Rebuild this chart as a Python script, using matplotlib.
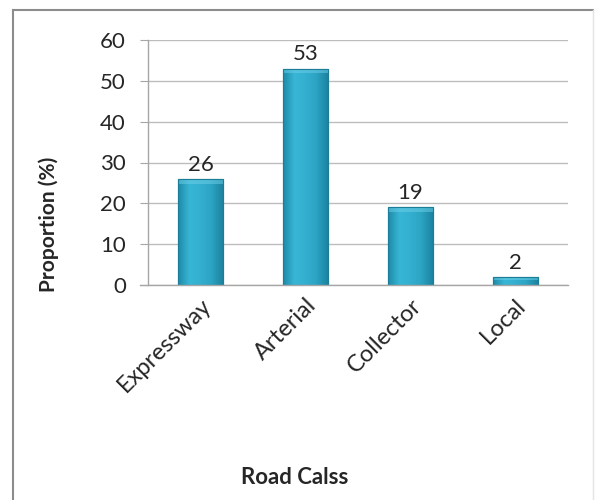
import numpy as np
import matplotlib.pyplot as plt
from matplotlib.colors import LinearSegmentedColormap
from matplotlib.patches import Rectangle
from matplotlib.lines import Line2D

# road class shares
categories = ["Expressway", "Arterial", "Collector", "Local"]
proportions = [26, 53, 19, 2]
y_ticks = [0, 10, 20, 30, 40, 50, 60]

plt.rcParams["font.family"] = ["Lato", "DejaVu Sans"]
TXT = "#262626"

fig = plt.figure(figsize=(5.95, 5.0), dpi=100)
ax = fig.add_axes([148 / 595, 1 - 285 / 500, 420 / 595, 245 / 500])

x = np.arange(len(categories))
bars = ax.bar(x, proportions, width=0.42, color="#2fa9c9",
              edgecolor="#1b7d97", linewidth=0.8, zorder=3)

# shaded fill across each bar
shade = LinearSegmentedColormap.from_list(
    "barshade", ["#1f8aa8", "#38b6d6", "#34afd0", "#2ca3c3", "#1c84a1"])
grad = np.linspace(0, 1, 64).reshape(1, -1)
for b in bars:
    x0, y0 = b.get_x(), b.get_y()
    w, h = b.get_width(), b.get_height()
    im = ax.imshow(grad, cmap=shade, aspect="auto", extent=(x0, x0 + w, y0, y0 + h),
                   zorder=3.5, interpolation="bicubic")
    im.set_clip_path(b)
    # soft bevel on top
    bev = min(1.2, h * 0.35)
    ax.add_patch(Rectangle((x0, y0 + h - bev), w, bev, facecolor="#6fd0e8",
                           edgecolor="none", alpha=0.5, zorder=3.6))
    ax.add_patch(Rectangle((x0, y0), w, h, facecolor="none",
                           edgecolor="#1b7d97", linewidth=0.8, zorder=3.7))

ax.bar_label(bars, labels=[str(v) for v in proportions], padding=3,
             fontsize=16, color=TXT)

ax.set_xlim(-0.5, len(categories) - 0.5)
ax.set_ylim(0, 60)
ax.set_yticks(y_ticks)
ax.set_xticks(x)
ax.set_xticklabels(categories, rotation=45, ha="right", va="top",
                   rotation_mode="anchor", fontsize=17, color=TXT)
ax.tick_params(axis="y", labelsize=16, labelcolor=TXT, length=6,
               color="#a6a6a6", pad=10)
ax.tick_params(axis="x", length=0, pad=7)
ax.yaxis.grid(True, color="#bdbdbd", linewidth=1.0, zorder=0)
ax.set_axisbelow(True)
for side in ("top", "right"):
    ax.spines[side].set_visible(False)
for side in ("left", "bottom"):
    ax.spines[side].set_color("#a6a6a6")
    ax.spines[side].set_linewidth(1.0)
ax.spines["bottom"].set_bounds(-0.5 - 8 / 105, len(categories) - 0.5)
ax.spines["bottom"].set_zorder(4)

fig.text(49 / 595, 1 - 224 / 500, "Proportion (%)", rotation=90,
         ha="center", va="center", fontsize=15, fontweight="bold", color=TXT)
fig.text(295 / 595, 1 - 478 / 500, "Road Calss", ha="center", va="center",
         fontsize=16, fontweight="bold", color=TXT)

# chart frame
fx0, fx1, fy1 = 13 / 595, 593 / 595, 1 - 10 / 500
fig.add_artist(Line2D([fx0, fx0], [0, fy1], transform=fig.transFigure,
                      color="#8c8c8c", linewidth=1.5))
fig.add_artist(Line2D([fx0, fx1], [fy1, fy1], transform=fig.transFigure,
                      color="#8c8c8c", linewidth=1.5))
fig.add_artist(Line2D([fx1, fx1], [0, fy1], transform=fig.transFigure,
                      color="#e4e4e4", linewidth=1.0))

fig.savefig("out.png", dpi=100)
